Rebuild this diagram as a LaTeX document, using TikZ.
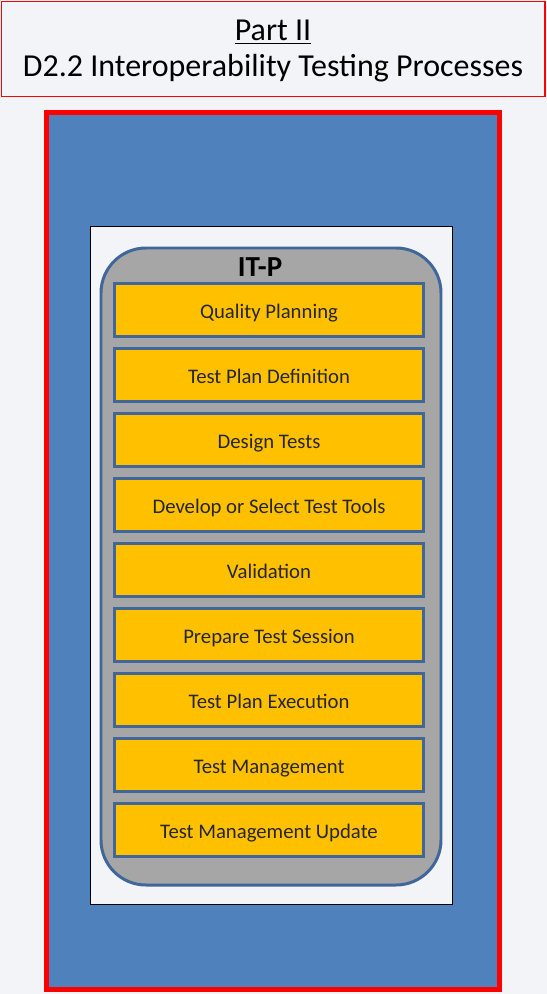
\documentclass[tikz,border=0pt]{standalone}
\usepackage{fontspec}
\setmainfont{Carlito}
\usepackage{tikz}

\definecolor{pagebg}{HTML}{F2F4F8}
\definecolor{partblue}{HTML}{4F81BD}
\definecolor{edgeblue}{HTML}{41679A}
\definecolor{stepfill}{HTML}{FFC000}
\definecolor{panelgray}{HTML}{A6A6A6}

\begin{document}
\begin{tikzpicture}[x=0.02cm,y=-0.02cm,
  stepbox/.style={draw=edgeblue,line width=1.7pt,fill=stepfill,
    minimum width=6.17cm,minimum height=1.05cm,inner sep=0pt,
    text height=9.2pt,text depth=0pt,
    font=\fontsize{11.8}{13}\selectfont,text=black!85}]
  \fill[pagebg] (0,0) rectangle (547,994);

  % title
  \draw[red,line width=1pt,fill=pagebg] (1.5,1.5) rectangle (545,96.5);
  \node[font=\fontsize{18.2}{22}\selectfont] (part) at (273,32) {\underline{Part II}};
  \node[font=\fontsize{18.2}{22}\selectfont] (title) at (273,68) {D2.2 Interoperability Testing Processes};

  % frames
  \draw[red,line width=2.9pt,fill=partblue] (46.5,112.5) rectangle (499.5,989.5);
  \draw[black,line width=0.9pt,fill=pagebg] (90.5,226.5) rectangle (452.5,904.5);
  \draw[edgeblue,line width=1.7pt,fill=panelgray,rounded corners=0.9cm] (101,248) rectangle (441,885);
  \node[font=\fontsize{16.5}{18}\selectfont\bfseries] (itp) at (260,267) {IT-P};

  % steps
  \foreach \i/\txt in {1/Quality Planning,2/Test Plan Definition,3/Design Tests,
      4/Develop or Select Test Tools,5/Validation,6/Prepare Test Session,
      7/Test Plan Execution,8/Test Management,9/Test Management Update}
    \node[stepbox] (s\i) at (269,245+65*\i) {\txt};

\end{tikzpicture}
\end{document}
